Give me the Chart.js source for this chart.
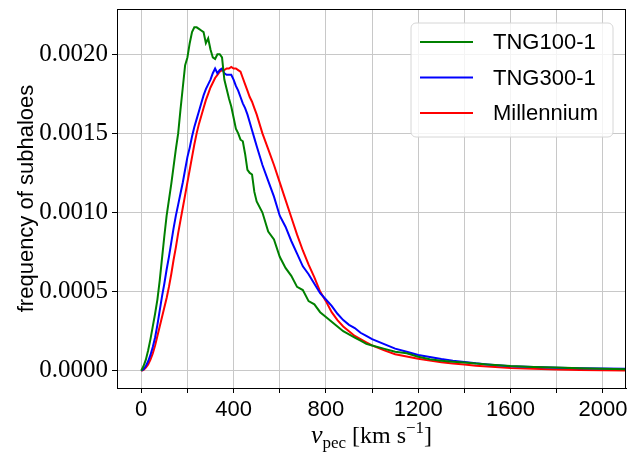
<!DOCTYPE html>
<html>
<head>
<meta charset="utf-8">
<script src="https://cdn.jsdelivr.net/npm/chart.js@4"></script>
<style>
    html, body { margin: 0; padding: 0; background: #fff; }
    #wrap { width: 638px; height: 452px; }
</style>
</head>
<body>
<div id="wrap"><canvas id="velChart" width="638" height="452"></canvas></div>
<script>
// peculiar velocity bins (km/s)
const vBins = [
    0, 10, 20, 30, 40, 50, 60, 70, 80, 90,
    100, 110, 120, 130, 140, 150, 160, 170, 180, 190,
    200, 210, 220, 230, 240, 250, 260, 270, 280, 290,
    300, 310, 320, 330, 340, 350, 360, 370, 380, 390,
    400, 410, 420, 430, 440, 450, 460, 470, 480, 490,
    500, 525, 550, 575, 600, 625, 650, 675, 700, 725,
    750, 775, 800, 825, 850, 875, 900, 925, 950, 975,
    1000, 1050, 1100, 1150, 1200, 1250, 1300, 1350, 1400, 1450,
    1500, 1600, 1700, 1800, 1900, 2000, 2100
];

const tng100 = [
    0, 0.00003, 0.00007, 0.00013, 0.0002, 0.00028, 0.00036, 0.00045, 0.00057, 0.00071,
    0.00085, 0.00098, 0.00108, 0.00118, 0.00129, 0.0014, 0.0015, 0.00165, 0.00179, 0.00193,
    0.00198, 0.00207, 0.00214, 0.00217, 0.00217, 0.00216, 0.00215, 0.00214, 0.00207, 0.0021,
    0.00203, 0.00198, 0.00197, 0.002, 0.002, 0.00198, 0.00184, 0.00178, 0.00172, 0.00167,
    0.0016, 0.00153, 0.0015, 0.00146, 0.00145, 0.00137, 0.00127, 0.00125, 0.00124, 0.00113,
    0.00107, 0.001, 0.00088, 0.00083, 0.00072, 0.00065, 0.0006, 0.00053, 0.00051, 0.00044,
    0.00042, 0.00037, 0.00034, 0.00031, 0.00028, 0.00025, 0.00023, 0.00021, 0.00019, 0.00017,
    0.00016, 0.00014, 0.00012, 0.00011, 0.000088, 0.000073, 0.000063, 0.000057, 0.000052, 0.000046,
    0.00004, 0.00003, 0.000024, 0.00002, 0.000016, 0.000013, 0.00001
];

const tng300 = [
    0, 0.00001, 0.00003, 0.00006, 0.0001, 0.00015, 0.00021, 0.00029, 0.00038, 0.00047,
    0.00055, 0.00064, 0.00072, 0.00081, 0.0009, 0.00098, 0.00105, 0.00112, 0.00119, 0.00127,
    0.00135, 0.00141, 0.00148, 0.00154, 0.00159, 0.00164, 0.00169, 0.00174, 0.00178, 0.00181,
    0.00184, 0.00188, 0.00191, 0.00188, 0.0019, 0.00191, 0.00188, 0.00187, 0.00187, 0.00187,
    0.00184, 0.0018, 0.00177, 0.00173, 0.00169, 0.00166, 0.00162, 0.00157, 0.00152, 0.00147,
    0.00142, 0.0013, 0.0012, 0.0011, 0.00098, 0.00091, 0.00082, 0.00074, 0.00066, 0.00061,
    0.00055, 0.00049, 0.00045, 0.00041, 0.00036, 0.00032, 0.00029, 0.00027, 0.00024, 0.00022,
    0.0002, 0.00017, 0.00014, 0.00012, 0.0001, 0.000087, 0.000074, 0.000064, 0.000056, 0.000047,
    0.00004, 0.000029, 0.000024, 0.000019, 0.000016, 0.000014, 0.000012
];

const millennium = [
    0, 0.000005, 0.00002, 0.00004, 0.00007, 0.00011, 0.00016, 0.00022, 0.00028, 0.00034,
    0.0004, 0.00046, 0.00053, 0.00061, 0.0007, 0.00078, 0.00087, 0.00095, 0.00103, 0.00111,
    0.00119, 0.00127, 0.00135, 0.00143, 0.0015, 0.00156, 0.00161, 0.00166, 0.00171, 0.00175,
    0.00179, 0.00182, 0.00185, 0.00187, 0.00189, 0.0019, 0.0019, 0.00191, 0.00191, 0.00192,
    0.00191, 0.00191, 0.0019, 0.00189, 0.00185, 0.00181, 0.00177, 0.00173, 0.0017, 0.00166,
    0.00162, 0.0015, 0.0014, 0.0013, 0.00119, 0.00108, 0.00097, 0.00086, 0.00076, 0.00067,
    0.00059, 0.0005, 0.00044, 0.00037, 0.00032, 0.00028, 0.00025, 0.00022, 0.0002, 0.00018,
    0.00016, 0.00013, 0.000104, 0.00009, 0.000076, 0.000064, 0.000054, 0.000046, 0.000039, 0.000032,
    0.000027, 0.000017, 0.000012, 0.000008, 0.000005, 0.000003, 0.000002
];

const seriesNames = ['TNG100-1', 'TNG300-1', 'Millennium'];
const seriesColors = ['#008000', '#0000ff', '#ff0000'];

const xTicks = [0, 200, 400, 600, 800, 1000, 1200, 1400, 1600, 1800, 2000];
const yTicks = [0, 0.0005, 0.001, 0.0015, 0.002];

const toPoints = (ys) => ys.map((y, i) => ({ x: vBins[i], y: y }));

// frame on top/right, legend box and x-axis title with sub/superscripts
const extrasPlugin = {
    id: 'extras',
    afterDatasetsDraw(chart) {
        const { ctx, chartArea: a } = chart;
        ctx.save();
        ctx.strokeStyle = '#000';
        ctx.lineWidth = 1;
        ctx.strokeRect(a.left + 0.5, a.top + 0.5, a.right - a.left - 1, a.bottom - a.top);
        ctx.restore();
    },
    afterDraw(chart) {
        const { ctx } = chart;
        ctx.save();

        // legend
        const bx = 411, by = 23, bw = 202, bh = 114, r = 5;
        ctx.beginPath();
        ctx.moveTo(bx + r, by);
        ctx.arcTo(bx + bw, by, bx + bw, by + bh, r);
        ctx.arcTo(bx + bw, by + bh, bx, by + bh, r);
        ctx.arcTo(bx, by + bh, bx, by, r);
        ctx.arcTo(bx, by, bx + bw, by, r);
        ctx.closePath();
        ctx.fillStyle = 'rgba(255,255,255,0.8)';
        ctx.fill();
        ctx.strokeStyle = '#d6d6d6';
        ctx.lineWidth = 1;
        ctx.stroke();

        ctx.font = '22px "Liberation Sans", sans-serif';
        ctx.textBaseline = 'middle';
        chart.data.datasets.forEach((ds, i) => {
            const ly = 42 + i * 35.5;
            ctx.strokeStyle = ds.borderColor;
            ctx.lineWidth = 2;
            ctx.beginPath();
            ctx.moveTo(420, ly);
            ctx.lineTo(473, ly);
            ctx.stroke();
            ctx.fillStyle = '#000';
            ctx.fillText(ds.label, 493, ly + 1);
        });

        // x title: v_pec [km s^-1]
        const parts = [
            { t: 'v', font: 'italic 26px "Liberation Serif", serif', dy: 0 },
            { t: 'pec', font: '17px "Liberation Serif", serif', dy: 5 },
            { t: ' [km s', font: '24px "Liberation Serif", serif', dy: 0 },
            { t: '\u22121', font: '17px "Liberation Serif", serif', dy: -10 },
            { t: ']', font: '24px "Liberation Serif", serif', dy: 0 }
        ];
        let total = 0;
        parts.forEach(p => { ctx.font = p.font; p.w = ctx.measureText(p.t).width; total += p.w; });
        let x = (chart.chartArea.left + chart.chartArea.right) / 2 - total / 2;
        const base = 443;
        ctx.textBaseline = 'alphabetic';
        ctx.fillStyle = '#000';
        parts.forEach(p => {
            ctx.font = p.font;
            ctx.fillText(p.t, x, base + p.dy);
            x += p.w;
        });
        ctx.restore();
    }
};

new Chart(document.getElementById('velChart'), {
    type: 'line',
    data: {
        datasets: [
            { label: seriesNames[0], data: toPoints(tng100), borderColor: seriesColors[0] },
            { label: seriesNames[1], data: toPoints(tng300), borderColor: seriesColors[1] },
            { label: seriesNames[2], data: toPoints(millennium), borderColor: seriesColors[2] }
        ]
    },
    options: {
        responsive: false,
        animation: false,
        devicePixelRatio: 1,
        layout: { padding: { left: 0, right: 12, top: 9, bottom: 0 } },
        elements: {
            point: { radius: 0 },
            line: { borderWidth: 2, tension: 0, fill: false }
        },
        plugins: {
            legend: { display: false },
            tooltip: { enabled: false }
        },
        scales: {
            x: {
                type: 'linear',
                min: -105,
                max: 2100,
                afterBuildTicks: (scale) => { scale.ticks = xTicks.map(v => ({ value: v })); },
                afterFit: (scale) => {
                    scale.height = 64;
                    scale.paddingLeft = 0;
                    scale.paddingRight = 0;
                },
                ticks: {
                    autoSkip: false,
                    maxRotation: 0,
                    padding: 4,
                    color: '#000',
                    font: { family: '"Liberation Sans", sans-serif', size: 22 },
                    callback: (v) => (v % 400 === 0 ? String(v) : '')
                },
                grid: { color: '#c8c8c8', lineWidth: 1, tickLength: 5, tickColor: '#000' },
                border: { display: true, color: '#000', width: 1 }
            },
            y: {
                type: 'linear',
                min: -0.000109,
                max: 0.002286,
                afterBuildTicks: (scale) => { scale.ticks = yTicks.map(v => ({ value: v })); },
                afterFit: (scale) => {
                    scale.width = 117;
                    scale.paddingTop = 0;
                    scale.paddingBottom = 0;
                },
                ticks: {
                    padding: 4,
                    color: '#000',
                    font: { family: '"Liberation Serif", serif', size: 25 },
                    callback: (v) => v.toFixed(4)
                },
                grid: { color: '#c8c8c8', lineWidth: 1, tickLength: 5, tickColor: '#000' },
                border: { display: true, color: '#000', width: 1 },
                title: {
                    display: true,
                    text: 'frequency of subhaloes',
                    color: '#000',
                    font: { family: '"Liberation Sans", sans-serif', size: 22 },
                    padding: { top: 14, bottom: 0 }
                }
            }
        }
    },
    plugins: [extrasPlugin]
});
</script>
</body>
</html>
